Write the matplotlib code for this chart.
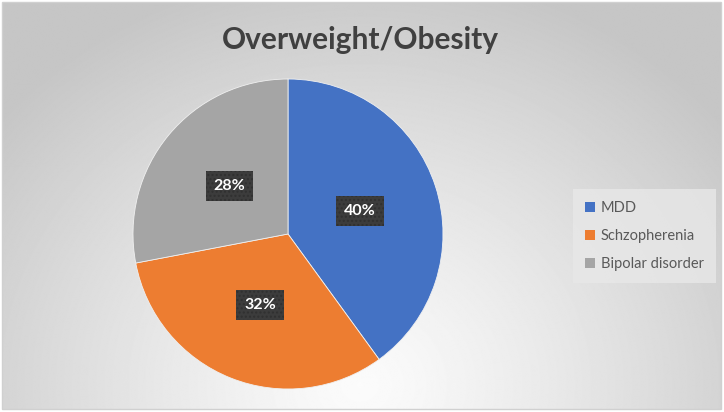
import matplotlib.pyplot as plt
import numpy as np
from matplotlib.patches import Patch, Rectangle

title = "Overweight/Obesity"
labels = ["MDD", "Schzopherenia", "Bipolar disorder"]
shares = [40, 32, 28]
colors = ["#4472C4", "#ED7D31", "#A5A5A5"]

W, H = 724, 412
fig = plt.figure(figsize=(W / 100, H / 100), dpi=100)
ax = fig.add_axes([0, 0, 1, 1])

# radial grey background like the Excel chart area
yy, xx = np.mgrid[0:H, 0:W]
r = np.hypot((xx - 360) / 1.0, (yy - 25) / 0.9)
bg = 0.985 - 0.21 * np.clip(r / 470, 0, 1) ** 1.2
ax.imshow(bg, cmap="gray", vmin=0, vmax=1, extent=(2, 721, 409, 2),
          origin="upper", zorder=0, aspect="auto")
ax.add_patch(Rectangle((2, H - 409), 719, 407, fill=False,
                       edgecolor="#d0d0d0", lw=1, zorder=1))

wedges, _, autotexts = ax.pie(
    shares, colors=colors, startangle=90, counterclock=False,
    center=(288, H - 234), radius=155, autopct="%d%%", pctdistance=0.49,
    wedgeprops=dict(linewidth=0.6, edgecolor="#f0f0f0"),
    textprops=dict(color="white", fontsize=11.5, fontweight="bold", family="Lato"),
    frame=True)
ax.set_xlim(0, W)
ax.set_ylim(0, H)
ax.axis("off")
for t in autotexts:
    t.set_bbox(dict(boxstyle="square,pad=0.5", facecolor="#3c3c3c",
                    edgecolor="#303030", hatch="....", lw=0))

ax.text(360, H - 40, title, ha="center", va="center", fontsize=21.5,
        fontweight="bold", color="#404040", family="Lato")

handles = [Patch(facecolor=c, edgecolor="none") for c in colors]
leg = fig.legend(handles, labels, loc="center left", bbox_to_anchor=(566 / W, 1 - 236 / H),
                 frameon=True, handlelength=0.7, handleheight=0.7,
                 handletextpad=0.4, labelspacing=0.95, borderpad=0.8, fancybox=False,
                 prop=dict(family="Lato", size=10.5))
leg.get_frame().set_facecolor("#e8e8e8")
leg.get_frame().set_edgecolor("none")
for t in leg.get_texts():
    t.set_color("#595959")

fig.savefig("out.png", dpi=100, facecolor="white")
